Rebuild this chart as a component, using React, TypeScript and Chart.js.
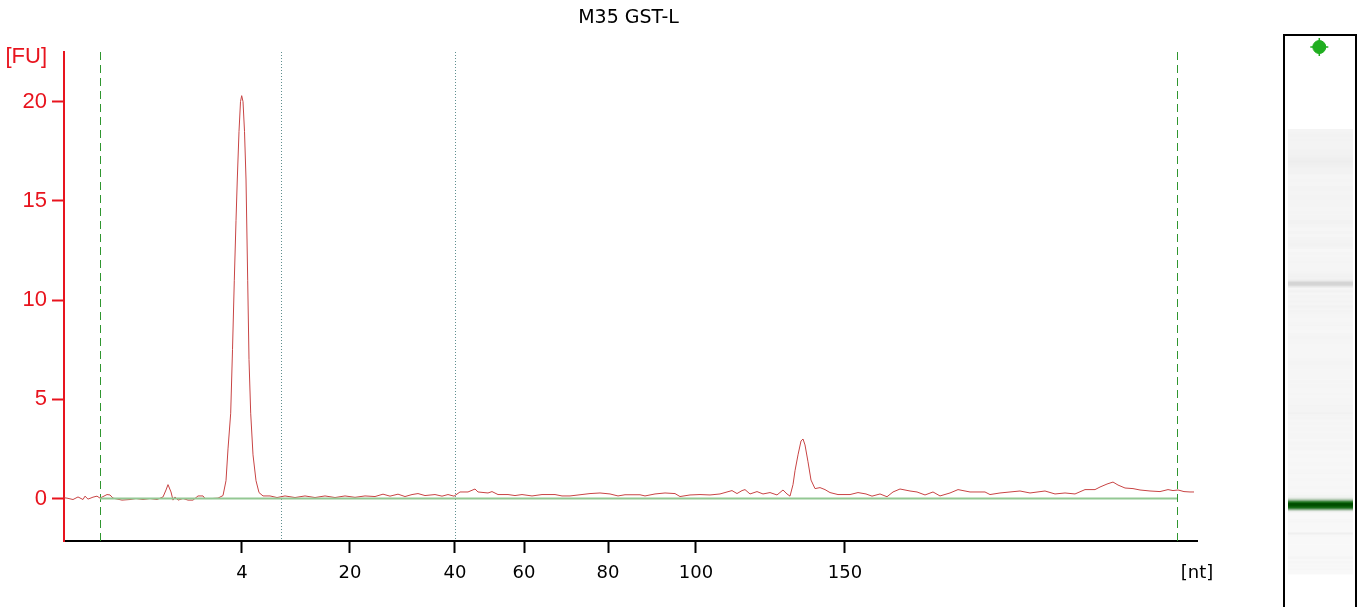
import React, { useEffect, useRef } from "react";
import { Chart, registerables } from "chart.js";

Chart.register(...registerables);

// ---- data (migration time in seconds, fluorescence in FU) ----
const traceTime = [
  18.0, 18.15, 18.45, 18.7, 18.95, 19.05, 19.2, 19.45, 19.65, 19.8, 20.15, 20.3, 20.45, 20.9, 21.3, 21.6, 21.95, 22.3, 22.65,
  22.95, 23.1, 23.2, 23.35, 23.45, 23.55, 23.7, 23.95, 24.2, 24.45, 24.7, 24.95, 25.05, 25.4, 25.7, 25.95,
  26.1, 26.2, 26.335, 26.425, 26.515, 26.6, 26.665, 26.75, 26.825, 26.885, 26.95, 27.025, 27.1, 27.185, 27.25, 27.335,
  27.45, 27.6, 27.75, 27.95,
  28.3, 28.65, 29.05, 29.55, 30.05, 30.55, 31.05, 31.55, 32.05, 32.55, 33.05, 33.55, 33.95, 34.3, 34.7, 35.05, 35.4,
  35.7, 36.05, 36.55, 36.9, 37.2, 37.5, 37.8, 38.2, 38.55, 38.7, 39.2, 39.4, 39.7, 40.2, 40.55, 40.9, 41.4, 41.9,
  42.55, 42.9, 43.3, 43.8, 44.3, 44.8, 45.3, 45.7, 46.05, 46.8, 47.05, 47.55, 48.05, 48.55, 48.8, 49.3, 49.8, 50.3,
  50.8, 51.15, 51.4, 51.65, 51.9, 52.05, 52.3, 52.65, 52.95, 53.3, 53.65, 53.95, 54.15, 54.3,
  54.45, 54.55, 54.7, 54.85, 54.95, 55.05, 55.2, 55.35, 55.55, 55.8, 56.05, 56.3, 56.7, 57.3, 57.7, 58.1, 58.4,
  58.8, 59.15, 59.45, 59.8, 60.3, 60.65, 61.05, 61.45, 61.8, 62.3, 62.7, 63.3, 64.05, 64.3, 64.8, 65.3, 65.8, 66.3,
  67.05, 67.55, 68.05, 68.55, 69.05, 69.55, 69.8, 70.15, 70.45, 70.7, 71.05, 71.45, 71.8, 72.3, 72.8, 73.2, 73.45,
  73.7, 74.0, 74.3, 74.5,
];
const traceFu = [
  0.04, 0.02, -0.05, 0.08, -0.05, 0.12, -0.03, 0.07, 0.12, 0.02, 0.2, 0.18, 0.02, -0.08, -0.05, 0.0, -0.05, 0.0, -0.05,
  0.08, 0.43, 0.7, 0.33, -0.08, 0.08, -0.08, 0.0, -0.08, -0.08, 0.13, 0.13, 0.0, 0.0, 0.02, 0.15,
  0.9, 2.5, 4.3, 7.5, 11.0, 14.0, 16.1, 18.5, 20.0, 20.3, 20.0, 18.5, 16.1, 11.0, 7.0, 4.3,
  2.2, 0.9, 0.3, 0.13,
  0.13, 0.05, 0.13, 0.05, 0.13, 0.05, 0.13, 0.05, 0.13, 0.06, 0.13, 0.1, 0.22, 0.12, 0.22, 0.1, 0.2,
  0.25, 0.15, 0.2, 0.12, 0.2, 0.12, 0.33, 0.33, 0.48, 0.33, 0.28, 0.35, 0.2, 0.2, 0.15, 0.2, 0.13, 0.2,
  0.2, 0.13, 0.13, 0.19, 0.25, 0.28, 0.23, 0.13, 0.19, 0.19, 0.13, 0.23, 0.28, 0.25, 0.1, 0.18, 0.2, 0.18,
  0.23, 0.33, 0.4, 0.25, 0.4, 0.45, 0.23, 0.35, 0.23, 0.3, 0.18, 0.43, 0.23, 0.12,
  0.7, 1.4, 2.2, 2.9, 3.0, 2.7, 1.85, 0.93, 0.5, 0.55, 0.45, 0.3, 0.2, 0.2, 0.3, 0.23, 0.12,
  0.23, 0.09, 0.33, 0.48, 0.38, 0.33, 0.18, 0.33, 0.13, 0.28, 0.45, 0.33, 0.33, 0.2, 0.28, 0.33, 0.38, 0.28,
  0.38, 0.23, 0.28, 0.23, 0.45, 0.45, 0.58, 0.73, 0.83, 0.68, 0.53, 0.5, 0.43, 0.38, 0.35, 0.45, 0.4,
  0.43, 0.35, 0.33, 0.33,
];

const xMin = 18.0;
const xMax = 74.65;
const xTickTimes = [26.9, 32.3, 37.55, 41.0, 45.2, 49.6, 57.05, 74.65];
const xTickLabels = ["4", "20", "40", "60", "80", "100", "150", "[nt]"];

const yMin = -2.14;
const yMax = 22.5;
const yTickValues = [0, 5, 10, 15, 20, 22.25];
const yTickLabels = ["0", "5", "10", "15", "20", "[FU]"];

const markerTimes = [19.8, 73.65]; // green dashed: lower / upper marker window
const regionTimes = [28.85, 37.55]; // gray dotted region lines
const baselineFu = 0;

const gelMarkerRange = [25.9, 27.95];
const gelDotTime = 84.9;
const gelMin = 13.8;
const gelMax = 86.3;

const TITLE = "M35 GST-L";

const markerLinesPlugin = {
  id: "markerLines",
  beforeDatasetsDraw(chart: any) {
    const { ctx, chartArea: a, scales } = chart;
    const x = scales.x;
    ctx.save();
    ctx.lineWidth = 1;
    ctx.strokeStyle = "#2f962f";
    ctx.setLineDash([8, 5]);
    for (const t of markerTimes) {
      const px = Math.round(x.getPixelForValue(t)) + 0.5;
      ctx.beginPath();
      ctx.moveTo(px, a.top);
      ctx.lineTo(px, a.bottom);
      ctx.stroke();
    }
    ctx.strokeStyle = "#5f8f8f";
    ctx.setLineDash([1, 2]);
    for (const t of regionTimes) {
      const px = Math.round(x.getPixelForValue(t)) + 0.5;
      ctx.beginPath();
      ctx.moveTo(px, a.top);
      ctx.lineTo(px, a.bottom);
      ctx.stroke();
    }
    ctx.restore();
  },
};

const gelPlugin = {
  id: "gelLane",
  beforeDatasetsDraw(chart: any) {
    const { ctx, chartArea: a, scales } = chart;
    const y = scales.y;
    ctx.save();
    const n = traceTime.length;
    const left = a.left + 3;
    const w = a.width - 5;
    for (let i = 0; i < n; i++) {
      const t0 = i === 0 ? traceTime[0] : (traceTime[i - 1] + traceTime[i]) / 2;
      const t1 = i === n - 1 ? traceTime[i] : (traceTime[i] + traceTime[i + 1]) / 2;
      const yTop = y.getPixelForValue(t1);
      const yBot = y.getPixelForValue(t0);
      const v = Math.max(0, traceFu[i]);
      const g = Math.max(0, Math.min(255, Math.round(248 - 13 * v)));
      ctx.fillStyle = `rgb(${g},${g},${g})`;
      ctx.fillRect(left, yTop, w, yBot - yTop + 0.5);
      const t = traceTime[i];
      if (t >= gelMarkerRange[0] && t <= gelMarkerRange[1]) {
        ctx.fillStyle = `rgba(0,110,0,${Math.min(1, v / 8)})`;
        ctx.fillRect(left, yTop, w, yBot - yTop + 0.5);
      }
    }
    ctx.strokeStyle = "#000";
    ctx.lineWidth = 2;
    ctx.beginPath();
    ctx.moveTo(a.left - 1, a.bottom + 2);
    ctx.lineTo(a.left - 1, a.top - 1);
    ctx.lineTo(a.right + 1, a.top - 1);
    ctx.lineTo(a.right + 1, a.bottom + 2);
    ctx.stroke();
    ctx.restore();
  },
};

export default function App() {
  const mainRef = useRef<HTMLCanvasElement | null>(null);
  const gelRef = useRef<HTMLCanvasElement | null>(null);

  useEffect(() => {
    if (!mainRef.current || !gelRef.current) return;
    const tracePoints = traceTime.map((t, i) => ({ x: t, y: traceFu[i] }));
    const baselinePoints = markerTimes.map((t) => ({ x: t, y: baselineFu }));

    const main = new Chart(mainRef.current, {
      type: "line",
      data: {
        datasets: [
          {
            label: "baseline",
            data: baselinePoints,
            borderColor: "#93c893",
            borderWidth: 2,
            pointRadius: 0,
          },
          {
            label: TITLE,
            data: tracePoints,
            borderColor: "#c84444",
            borderWidth: 1,
            pointRadius: 0,
            tension: 0,
          },
        ],
      },
      options: {
        animation: false,
        responsive: false,
        maintainAspectRatio: false,
        layout: { padding: 0, autoPadding: false },
        plugins: {
          legend: { display: false },
          tooltip: { enabled: false },
          title: {
            display: true,
            text: TITLE,
            color: "#000",
            font: { family: "DejaVu Sans", size: 19, weight: "normal", lineHeight: 1.2 },
            padding: { top: 7, bottom: 22.2 },
          },
        },
        scales: {
          x: {
            type: "linear",
            min: xMin,
            max: xMax,
            afterBuildTicks: (s: any) => {
              s.ticks = xTickTimes.map((v) => ({ value: v }));
            },
            afterFit: (s: any) => {
              s.height = 66;
            },
            ticks: {
              autoSkip: false,
              maxRotation: 0,
              color: "#000",
              padding: 10,
              font: { family: "DejaVu Sans", size: 18 },
              callback: (_v: any, i: number) => xTickLabels[i],
            },
            grid: {
              drawOnChartArea: false,
              drawTicks: true,
              tickLength: 12,
              tickWidth: 2,
              tickColor: (ctx: any) => (ctx.index === xTickLabels.length - 1 ? "rgba(0,0,0,0)" : "#000"),
            },
            border: { color: "#000", width: 2 },
          },
          y: {
            type: "linear",
            min: yMin,
            max: yMax,
            afterBuildTicks: (s: any) => {
              s.ticks = yTickValues.map((v) => ({ value: v }));
            },
            afterFit: (s: any) => {
              s.width = 64;
            },
            ticks: {
              autoSkip: false,
              color: "#e8141e",
              padding: 5,
              font: { family: "Liberation Sans", size: 22 },
              callback: (_v: any, i: number) => yTickLabels[i],
            },
            grid: {
              drawOnChartArea: false,
              drawTicks: true,
              tickLength: 12,
              tickWidth: 2,
              tickColor: (ctx: any) => (ctx.index === yTickLabels.length - 1 ? "rgba(0,0,0,0)" : "#e8141e"),
            },
            border: { color: "#e8141e", width: 2 },
          },
          y2: {
            type: "linear",
            position: "right",
            display: true,
            ticks: { display: false },
            grid: { display: false },
            border: { display: false },
            afterFit: (s: any) => {
              s.width = 60;
            },
          },
        },
      },
      plugins: [markerLinesPlugin],
    });

    const gel = new Chart(gelRef.current, {
      type: "scatter",
      data: {
        datasets: [
          {
            label: "upper",
            data: [{ x: 0.49, y: gelDotTime }],
            pointRadius: 6.5,
            pointStyle: "circle",
            backgroundColor: "#1fae1f",
            borderColor: "#1fae1f",
            borderWidth: 1,
          },
          {
            label: "upper-spikes",
            data: [{ x: 0.49, y: gelDotTime }],
            pointRadius: 9,
            pointStyle: "cross",
            backgroundColor: "#1fae1f",
            borderColor: "#1fae1f",
            borderWidth: 1.5,
          },
        ],
      },
      options: {
        animation: false,
        responsive: false,
        maintainAspectRatio: false,
        layout: { padding: { left: 15, right: 6, top: 36, bottom: 0 }, autoPadding: false },
        plugins: { legend: { display: false }, tooltip: { enabled: false } },
        scales: {
          x: { type: "linear", min: 0, max: 1, display: false },
          y: { type: "linear", min: gelMin, max: gelMax, display: false },
        },
      },
      plugins: [gelPlugin],
    });

    return () => {
      main.destroy();
      gel.destroy();
    };
  }, []);

  return (
    <div style={{ position: "absolute", left: 0, top: 0, width: 1361, height: 607, background: "#fff", overflow: "hidden" }}>
      <canvas ref={mainRef} width={1257} height={607} style={{ position: "absolute", left: 0, top: 0, width: 1257, height: 607 }} />
      <canvas ref={gelRef} width={91} height={607} style={{ position: "absolute", left: 1270, top: 0, width: 91, height: 607 }} />
    </div>
  );
}
